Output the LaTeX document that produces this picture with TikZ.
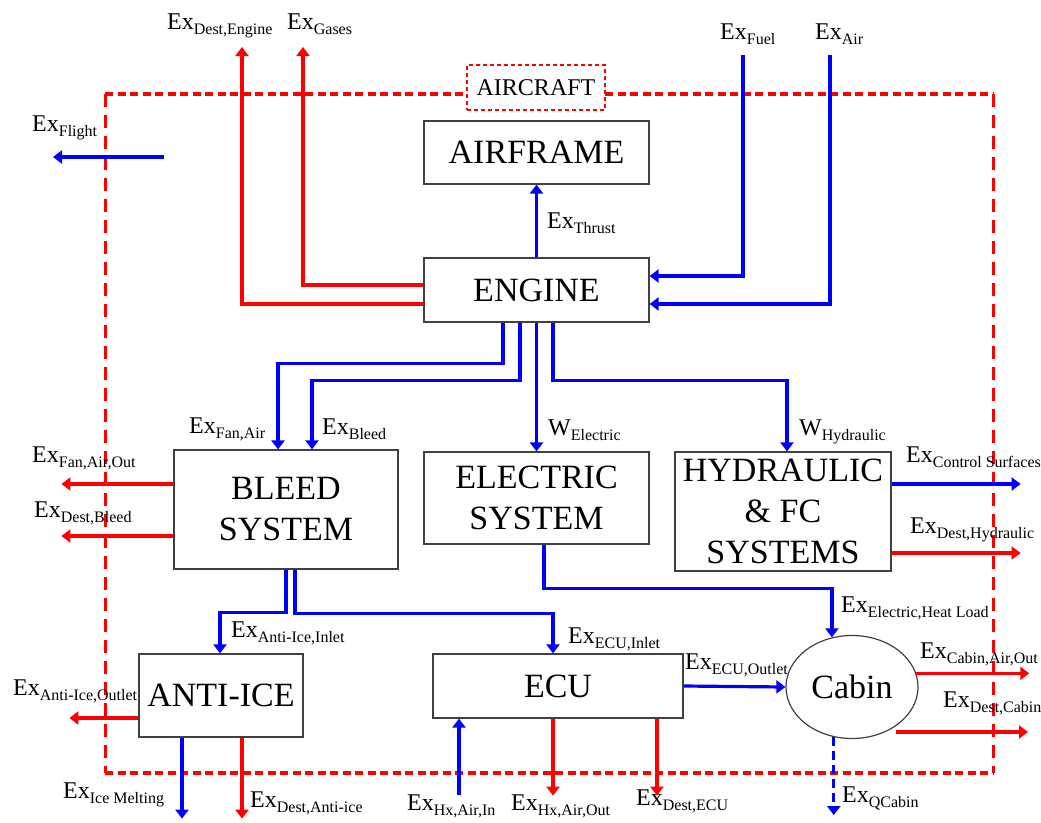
\documentclass[tikz,border=0pt]{standalone}
\usepackage{fontspec}
\setmainfont{Liberation Serif}
\usetikzlibrary{arrows.meta,shapes.geometric}
\newcommand\exlab[2]{#1\raisebox{-5pt}{\fontsize{16}{16}\selectfont #2}}
\definecolor{fblue}{RGB}{0,0,255}
\definecolor{fred}{RGB}{255,0,0}
\tikzset{
  x=1pt,y=-1pt,
  box/.style={draw=black!75,line width=1.2pt,rectangle,align=center,inner sep=0pt,
    font=\rmfamily\fontsize{34}{41}\selectfont},
  lab/.style={inner sep=0pt,anchor=base west,font=\rmfamily\fontsize{24}{24}\selectfont},
  flowb/.style={draw=fblue,line width=3.2pt,-{Triangle[length=9pt,width=13pt]}},
  flowr/.style={draw=fred,line width=3.2pt,-{Triangle[length=9pt,width=13pt]}},
  bndh/.style={draw=fred,line width=4pt,dash pattern=on 8pt off 4.5pt},
  bndv/.style={draw=fred,line width=3pt,dash pattern=on 13pt off 8pt},
}
\begin{document}
\begin{tikzpicture}
\useasboundingbox (0,0) rectangle (1041,822);
% boundary
\coordinate (b1) at (105,94);
\coordinate (b2) at (467,94);
\coordinate (b3) at (605,94);
\coordinate (b4) at (993,94);
\coordinate (b5) at (993,773);
\coordinate (b6) at (105,773);
\draw[bndh] (b1) -- (b2);
\draw[bndh] (b3) -- (b4);
\draw[bndh] (b6) -- (b5);
\draw[bndv] (b4) -- (b5);
\draw[bndv] (b1) -- (b6);
\node[draw=fred,line width=1.6pt,dash pattern=on 4pt off 3pt,minimum width=138pt,minimum height=45pt,
  inner sep=0pt,font=\rmfamily\fontsize{24}{24}\selectfont] (aircraft) at (536,87.5) {AIRCRAFT};

% boxes
\node[box,minimum width=225pt,minimum height=63pt] (airframe) at (536.5,152.5) {AIRFRAME};
\node[box,minimum width=225pt,minimum height=64pt] (engine) at (536.5,290) {ENGINE};
\node[box,minimum width=224pt,minimum height=119pt] (bleed) at (286,509.5) {BLEED\\SYSTEM};
\node[box,minimum width=225pt,minimum height=92pt] (electric) at (536.5,498) {ELECTRIC\\SYSTEM};
\node[box,minimum width=216pt,minimum height=119pt] (hydraulic) at (783,511.5) {HYDRAULIC\\\&~FC\\SYSTEMS};
\node[box,minimum width=164pt,minimum height=83pt] (antiice) at (221,695.5) {ANTI-ICE};
\node[box,minimum width=250pt,minimum height=64pt] (ecu) at (558,686) {ECU};
\node[box,ellipse,minimum width=132pt,minimum height=103pt] (cabin) at (852,687) {Cabin};

% free ends
\coordinate (fuel) at (743,55);
\coordinate (air) at (830,55);
\coordinate (destengtip) at (242,47);
\coordinate (gasestip) at (303,47);
\coordinate (flightA) at (164,157);
\coordinate (flightB) at (53,157);
\coordinate (hxin) at (459,795);

% engine connectors
\draw[flowb] (engine.north) -- (airframe.south);
\draw[flowb] (fuel) |- ([yshift=14pt]engine.east);
\draw[flowb] (air) |- ([yshift=-14pt]engine.east);
\draw[flowr] ([yshift=-14pt]engine.west) -| (destengtip);
\draw[flowr] ([yshift=5pt]engine.west) -| (gasestip);
\draw[flowb] (flightA) -- (flightB);
\draw[flowb] ([xshift=-33.5pt]engine.south) -- ++(0,41) -| ([xshift=-8pt]bleed.north);
\draw[flowb] ([xshift=-16.5pt]engine.south) -- ++(0,58) -| ([xshift=26pt]bleed.north);
\draw[flowb] (engine.south) -- (electric.north);
\draw[flowb] ([xshift=16.5pt]engine.south) -- ++(0,58) -| ([xshift=4pt]hydraulic.north);

% hydraulic outputs
\draw[flowb] ([yshift=27.5pt]hydraulic.east) -- ++(129,0);
\draw[flowr] ([yshift=-41.5pt]hydraulic.east) -- ++(129,0);

% bleed outputs
\draw[flowr] ([yshift=25.5pt]bleed.west) -- ++(-112,0);
\draw[flowr] ([yshift=-26.5pt]bleed.west) -- ++(-112,0);
\draw[flowb] (bleed.south) -- ++(0,43) -| ([xshift=-1pt]antiice.north);
\draw[flowb] ([xshift=9pt]bleed.south) -- ++(0,44) -| ([xshift=-5pt]ecu.north);

% anti-ice outputs
\draw[flowr] ([yshift=-22.5pt]antiice.west) -- ++(-69,0);
\draw[flowb] ([xshift=-39pt]antiice.south) -- ++(0,81);
\draw[flowr] ([xshift=21pt]antiice.south) -- ++(0,81);

% ECU
\draw[flowb] (hxin) -- ([xshift=-99pt]ecu.south);
\draw[flowr] ([xshift=-5pt]ecu.south) -- ++(0,77);
\draw[flowr] ([xshift=99pt]ecu.south) -- ++(0,77);
\draw[flowb] (ecu.east) -- (cabin.west);

% electric to cabin
\draw[flowb] ([xshift=7.5pt]electric.south) -- ++(0,44) -| (cabin.112);

% cabin outputs
\draw[flowr] (cabin.12) -- ++(113,0);
\draw[flowr] ([xshift=44pt,yshift=-45pt]cabin.center) -- ++(132,0);
\draw[flowb,dash pattern=on 9pt off 5pt] (cabin.-110) -- ++(0,78);

% labels
\node[lab] (lDestEng) at (167,29) {\exlab{Ex}{Dest,Engine}};
\node[lab] (lGases) at (287,29) {\exlab{Ex}{Gases}};
\node[lab] (lFlight) at (32,131) {\exlab{Ex}{Flight}};
\node[lab] (lFuel) at (720,39) {\exlab{Ex}{Fuel}};
\node[lab] (lAir) at (815,39) {\exlab{Ex}{Air}};
\node[lab] (lThrust) at (547,228) {\exlab{Ex}{Thrust}};
\node[lab] (lFanAir) at (189,433) {\exlab{Ex}{Fan,Air}};
\node[lab] (lBleed) at (322,434) {\exlab{Ex}{Bleed}};
\node[lab] (lFanAirOut) at (32,462) {\exlab{Ex}{Fan,Air,Out}};
\node[lab] (lDestBleed) at (34,517) {\exlab{Ex}{Dest,Bleed}};
\node[lab] (lWElec) at (548,435) {\exlab{W}{Electric}};
\node[lab] (lWHyd) at (799,435) {\exlab{W}{Hydraulic}};
\node[lab] (lCtrl) at (906,462) {\exlab{Ex}{Control Surfaces}};
\node[lab] (lDestHyd) at (910,533) {\exlab{Ex}{Dest,Hydraulic}};
\node[lab] (lAIin) at (231,637) {\exlab{Ex}{Anti-Ice,Inlet}};
\node[lab] (lAIout) at (13,695) {\exlab{Ex}{Anti-Ice,Outlet}};
\node[lab] (lIce) at (63,798) {\exlab{Ex}{Ice Melting}};
\node[lab] (lDestAI) at (250,807) {\exlab{Ex}{Dest,Anti-ice}};
\node[lab] (lHxIn) at (407,810) {\exlab{Ex}{Hx,Air,In}};
\node[lab] (lHxOut) at (511,810) {\exlab{Ex}{Hx,Air,Out}};
\node[lab] (lDestECU) at (636,805) {\exlab{Ex}{Dest,ECU}};
\node[lab] (lECUin) at (568,643) {\exlab{Ex}{ECU,Inlet}};
\node[lab] (lECUout) at (685,669) {\exlab{Ex}{ECU,Outlet}};
\node[lab] (lHeat) at (841,612) {\exlab{Ex}{Electric,Heat Load}};
\node[lab] (lCabAir) at (920,658) {\exlab{Ex}{Cabin,Air,Out}};
\node[lab] (lDestCab) at (943,707) {\exlab{Ex}{Dest,Cabin}};
\node[lab] (lQ) at (842,802) {\exlab{Ex}{QCabin}};
\end{tikzpicture}
\end{document}
